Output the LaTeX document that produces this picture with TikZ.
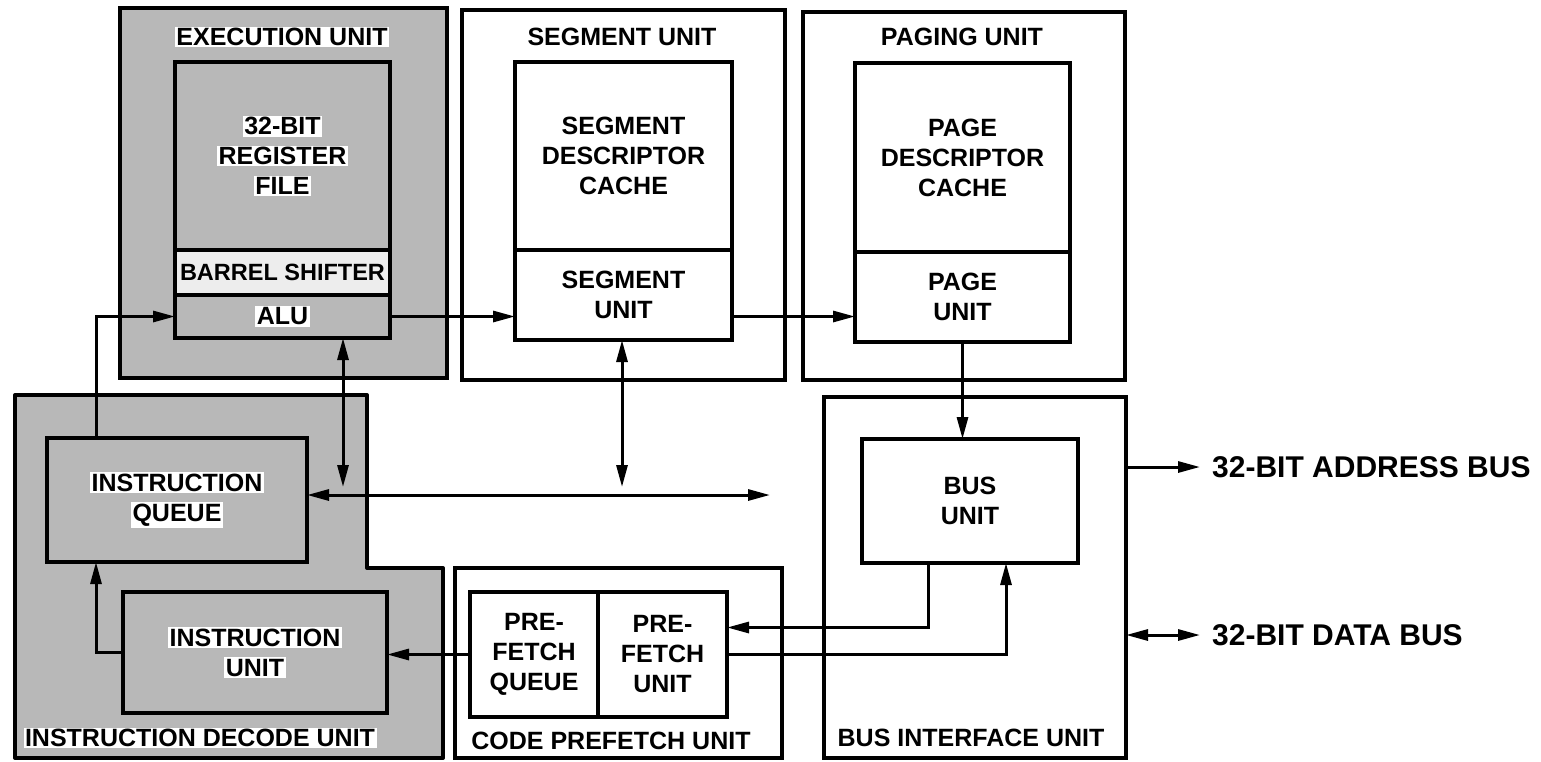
\documentclass[tikz,border=0pt]{standalone}
\usepackage{fontspec}
\setmainfont{Liberation Sans}
\usetikzlibrary{arrows.meta}
\definecolor{shade}{gray}{0.72}
\definecolor{shadelt}{gray}{0.93}
\newcommand\dfont{\fontsize{25}{30}\selectfont\bfseries}
\newcommand\wb[1]{{\setlength\fboxsep{1.5pt}\colorbox{white}{#1}}}
\begin{document}
\begin{tikzpicture}[x=1pt,y=-1pt,
  >={Triangle[length=22pt,width=11pt]},
  box/.style={draw, line width=4pt, inner sep=0pt, outer sep=0pt, anchor=north west, align=center, font=\dfont},
  txt/.style={inner sep=0pt, align=center, font=\dfont},
  conn/.style={line width=3pt},
  buslbl/.style={anchor=west, inner xsep=12pt, inner ysep=0pt, font=\fontsize{30}{36}\selectfont\bfseries}]
\useasboundingbox (0,0) rectangle (1541,761);

% Execution unit
\node[box, fill=shade, minimum width=327, minimum height=370] (eu) at (120,8) {};
\node[txt] (eut) at (282,37) {\wb{EXECUTION UNIT}};
\node[box, fill=shade, minimum width=215, minimum height=188] (rf) at (175,62) {};
\node[txt] (rft) at (rf.center) {\wb{32-BIT}\\\wb{REGISTER}\\\wb{FILE}};
\node[box, fill=shadelt, minimum width=215, minimum height=45, font=\fontsize{23.5}{28}\selectfont\bfseries] (bs) at (175,250) {BARREL SHIFTER};
\node[box, fill=shade, minimum width=215, minimum height=43] (alu) at (175,295) {};
\node[txt] (alut) at (alu.center) {\wb{ALU}};

% Segment unit
\node[box, minimum width=323, minimum height=370] (su) at (462,10) {};
\node[txt] (sut) at (622,37) {SEGMENT UNIT};
\node[box, minimum width=217, minimum height=188] (sdc) at (515,62) {SEGMENT\\DESCRIPTOR\\CACHE};
\node[box, minimum width=217, minimum height=90] (sul) at (515,250) {SEGMENT\\UNIT};

% Paging unit
\node[box, minimum width=322, minimum height=368] (pu) at (803,12) {};
\node[txt] (put) at (962,37) {PAGING UNIT};
\node[box, minimum width=215, minimum height=189] (pdc) at (855,63) {PAGE\\DESCRIPTOR\\CACHE};
\node[box, minimum width=215, minimum height=90] (pul) at (855,252) {PAGE\\UNIT};

% Instruction decode unit
\draw[line width=4pt, fill=shade, line join=round] (15,395) -- (367,395) -- (367,568) -- (443,568) -- (443,758) -- (15,758) -- cycle;
\node[box, fill=shade, minimum width=260, minimum height=124] (iq) at (47,438) {};
\node[txt] (iqt) at (iq.center) {\wb{INSTRUCTION}\\\wb{QUEUE}};
\node[box, fill=shade, minimum width=264, minimum height=121] (iu) at (123,592) {};
\node[txt] (iut) at (iu.center) {\wb{INSTRUCTION}\\\wb{UNIT}};
\node[txt] (idut) at (200,738) {\wb{INSTRUCTION DECODE UNIT}};

% Code prefetch unit
\node[box, minimum width=327, minimum height=190] (cpu) at (455,568) {};
\node[box, minimum width=128, minimum height=125] (pq) at (470,592) {PRE-\\FETCH\\QUEUE};
\node[box, minimum width=129, minimum height=125] (pf) at (598,592) {PRE-\\FETCH\\UNIT};
\node[txt] (cput) at (611,741) {CODE PREFETCH UNIT};

% Bus interface unit
\node[box, minimum width=302, minimum height=361] (biu) at (824,397) {};
\node[box, minimum width=216, minimum height=124] (bu) at (862,439) {BUS\\UNIT};
\node[txt] (biut) at (971,738) {BUS INTERFACE UNIT};

% External bus labels
\node[buslbl] (abl) at (1200,467) {32-BIT ADDRESS BUS};
\node[buslbl] (dbl) at (1200,635) {32-BIT DATA BUS};

% Free ends
\coordinate (aluD) at (343,487);
\coordinate (suD) at (622,487);
\coordinate (busE) at (770,495);

% Connectors
\draw[conn,->] (alu.east) -- (alu.east -| sul.west);
\draw[conn,->] (sul.east |- alu.east) -- (alu.east -| pul.west);
\draw[conn,->] (pul.south) -- (pul.south |- bu.north);
\draw[conn,->] ([xshift=49pt]iq.north west) |- (alu.west);
\draw[conn,->] (iu.west) -| ([xshift=49pt]iq.south west);
\draw[conn,<->] (alu.south -| aluD) -- (aluD);
\draw[conn,<->] (sul.south -| suD) -- (suD);
\draw[conn,<->] (iq.east |- busE) -- (busE);
\draw[conn,->] ([xshift=-42pt]bu.south) |- ([yshift=27pt]pf.east);
\draw[conn,->] (pf.east) -| ([xshift=36pt]bu.south);
\draw[conn,->] (pq.west) -- (pq.west -| iu.east);
\draw[conn,->] (biu.east |- abl.west) -- (abl.west);
\draw[conn,<->] (biu.east |- dbl.west) -- (dbl.west);
\end{tikzpicture}
\end{document}
